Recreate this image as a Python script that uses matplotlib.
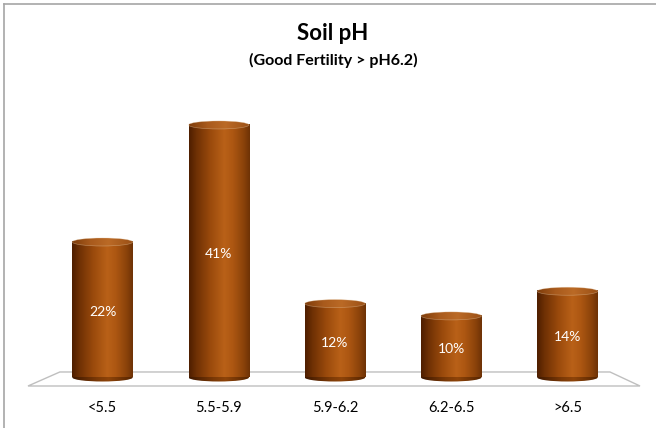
import matplotlib
matplotlib.use('Agg')
import matplotlib.pyplot as plt
import numpy as np
from matplotlib.colors import LinearSegmentedColormap
from matplotlib.patches import Ellipse, Polygon
from matplotlib.lines import Line2D

categories = ['<5.5', '5.5-5.9', '5.9-6.2', '6.2-6.5', '>6.5']
values = [22, 41, 12, 10, 14]
value_labels = [f'{v}%' for v in values]
title = 'Soil pH'
subtitle = '(Good Fertility > pH6.2)'

plt.rcParams['font.family'] = ['Lato', 'DejaVu Sans']

W, H = 656, 428
fig = plt.figure(figsize=(W / 100, H / 100), dpi=100)
fig.patch.set_facecolor('white')

def fx(px):
    return px / W

def fy(py):
    return 1 - py / H

ax = fig.add_axes([fx(28), fy(386), fx(640) - fx(28), fy(100) - fy(386)])
ax.set_facecolor('none')

body_cmap = LinearSegmentedColormap.from_list('body', [
    (0.0, '#4e1e00'), (0.12, '#6e3004'), (0.35, '#9a4a0c'),
    (0.58, '#b96118'), (0.72, '#ad5712'), (0.9, '#8a420a'), (1.0, '#6e3206')])
top_cmap = LinearSegmentedColormap.from_list('top', [
    (0.0, '#7e3c0a'), (0.3, '#a85a1c'), (0.6, '#bb6a26'), (1.0, '#9a5016')])
base_cmap = LinearSegmentedColormap.from_list('base', [
    (0.0, '#3e1800'), (0.4, '#7a3806'), (0.6, '#8e4409'), (1.0, '#552400')])

grad = np.linspace(0, 1, 256).reshape(1, -1)
bw = 0.52
eh = 0.65
x = np.arange(len(categories))

for xi, v in zip(x, values):
    x0, x1 = xi - bw / 2, xi + bw / 2
    e_b = Ellipse((xi, 0), bw, 2 * eh, transform=ax.transData)
    im = ax.imshow(grad, extent=[x0, x1, -eh, eh], cmap=base_cmap,
                   aspect='auto', zorder=2, interpolation='bilinear')
    im.set_clip_path(e_b)
    ax.imshow(grad, extent=[x0, x1, 0, v], cmap=body_cmap,
              aspect='auto', zorder=3, interpolation='bilinear')
    e_t = Ellipse((xi, v), bw, 2 * eh, transform=ax.transData)
    im = ax.imshow(grad, extent=[x0, x1, v - eh, v + eh], cmap=top_cmap,
                   aspect='auto', zorder=4, interpolation='bilinear')
    im.set_clip_path(e_t)
    ax.add_patch(Ellipse((xi, v), bw, 2 * eh, facecolor='none',
                         edgecolor='#e6c9a6', lw=0.5, zorder=5, alpha=0.45))

for xi, v, lab in zip(x, values, value_labels):
    ax.text(xi, v / 2 - 0.4, lab, color='white', ha='center', va='center',
            fontsize=10, zorder=6)

floor = Polygon([(0, 0), (0.052, 0.049), (0.951, 0.049), (1, 0)], closed=True,
                facecolor='white', edgecolor='#bfbfbf', lw=1.0,
                transform=ax.transAxes, zorder=0, clip_on=False)
ax.add_patch(floor)

ax.set_xlim(-0.641, 4.624)
ax.set_ylim(-1.38, 45.05)
ax.set_xticks(x)
ax.set_xticklabels(categories, fontsize=10.5)
ax.tick_params(axis='x', length=0, pad=11)
ax.set_yticks([])
for s in ax.spines.values():
    s.set_visible(False)

fig.text(fx(333), fy(33), title, ha='center', va='center',
         fontsize=16, fontweight='bold')
fig.text(fx(333), fy(60), subtitle, ha='center', va='center',
         fontsize=11.5, fontweight='bold')

fig.add_artist(Line2D([fx(4), 1], [fy(4), fy(4)], color='#a6a6a6', lw=1.2))
fig.add_artist(Line2D([fx(4), fx(4)], [fy(4), 0], color='#a6a6a6', lw=1.2))

fig.savefig('out.png', dpi=100)
